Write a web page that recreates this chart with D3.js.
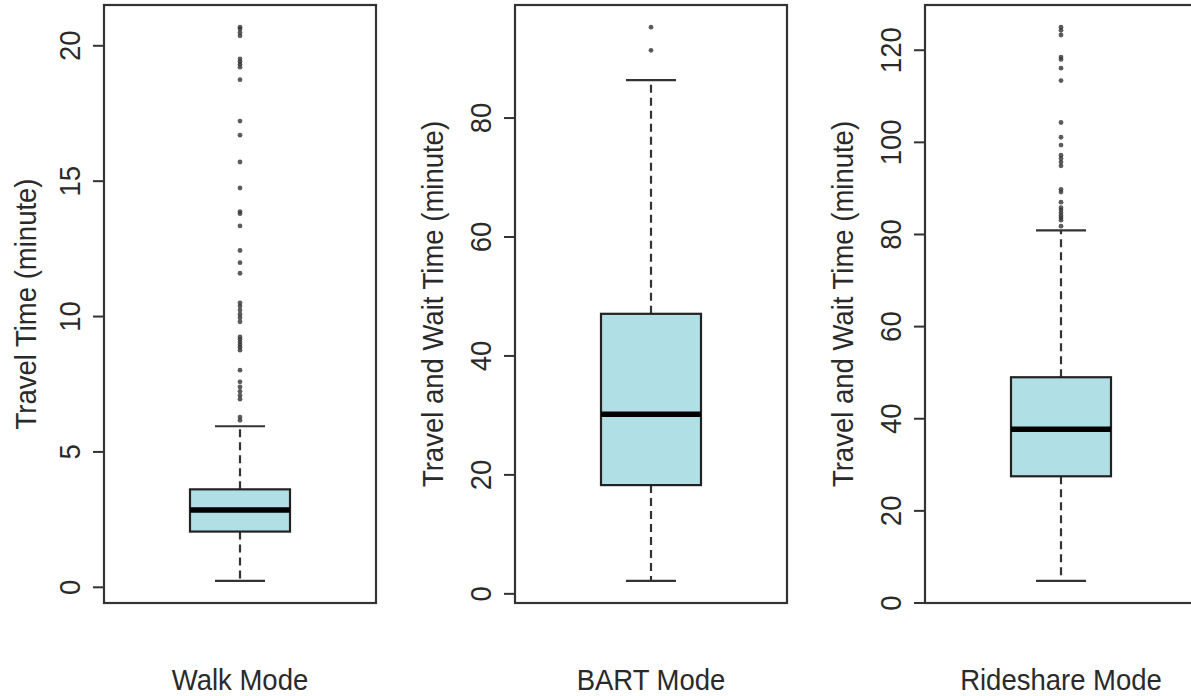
<!DOCTYPE html>
<html>
<head>
<meta charset="utf-8">
<script src="https://cdn.jsdelivr.net/npm/d3@7/dist/d3.min.js"></script>
<style>
  html, body { margin: 0; padding: 0; background: #fff; }
  svg { display: block; }
  text { font-family: "Liberation Sans", Arial, sans-serif; fill: #2a2a2a; }
</style>
</head>
<body>
<svg id="chart" width="1191" height="696"></svg>
<script>
// ---------------- data ----------------
const categories = ["Walk Mode", "BART Mode", "Rideshare Mode"];
const yTitles = ["Travel Time (minute)", "Travel and Wait Time (minute)", "Travel and Wait Time (minute)"];
const lowerWhisker = [0.22, 2.1, 4.7];
const q1Values = [2.04, 18.2, 27.4];
const medianValues = [2.84, 30.1, 37.6];
const q3Values = [3.6, 47.0, 48.9];
const upperWhisker = [5.93, 86.3, 80.8];
const walkOutliers = [20.67, 20.6, 20.47, 20.35, 19.5, 19.4, 19.3, 19.19, 18.73, 17.2, 16.68,
  15.69, 14.73, 13.86, 13.78, 13.33, 12.42, 11.97, 11.58, 10.49, 10.37, 10.22, 10.07, 9.94,
  9.79, 9.23, 9.14, 9.04, 8.94, 8.85, 8.74, 8.0, 7.57, 7.38, 7.22, 7.07, 6.93, 6.27, 6.15];
const bartOutliers = [95.2, 91.3];
const rideOutliers = [124.9, 124.2, 123.2, 118.4, 117.9, 116.0, 113.3, 104.2, 101.0, 99.3,
  97.1, 96.4, 95.6, 94.8, 89.7, 89.1, 86.9, 85.7, 85.2, 84.6, 84.0, 83.5, 83.0, 81.7];
const walkTicks = [0, 5, 10, 15, 20];
const bartTicks = [0, 20, 40, 60, 80];
const rideTicks = [0, 20, 40, 60, 80, 100, 120];

const outliers = [walkOutliers, bartOutliers, rideOutliers];
const tickSets = [walkTicks, bartTicks, rideTicks];

// ---------------- layout ----------------
const svg = d3.select("#chart");
const frameLeft = [104, 515, 925];
const frameW = 272;
const plotTop = 5, plotBottom = 603;
const boxW = 100, capW = 50;
const fontSize = 27.5;
const stretch = 1.08;

categories.forEach((cat, i) => {
  const g = svg.append("g");
  const all = [lowerWhisker[i], upperWhisker[i], ...outliers[i]];
  const lo = d3.min(all), hi = d3.max(all);
  const pad = (hi - lo) * 0.04;
  const y = d3.scaleLinear().domain([lo - pad, hi + pad]).range([plotBottom, plotTop]);
  const x = d3.scaleBand().domain([cat]).range([frameLeft[i], frameLeft[i] + frameW]);
  const cx = x(cat) + x.bandwidth() / 2;

  // y axis ticks
  const axis = d3.axisLeft(y).tickValues(tickSets[i]).tickSize(11).tickPadding(0).tickFormat(d3.format("d"));
  const ax = g.append("g").attr("transform", `translate(${frameLeft[i]},0)`).call(axis);
  ax.select(".domain").remove();
  ax.selectAll(".tick line").attr("stroke", "#333").attr("stroke-width", 2);
  ax.selectAll(".tick text").remove();
  ax.selectAll(".tick").append("text")
    .attr("transform", `translate(-24,0) rotate(-90) scale(1,${stretch})`)
    .attr("text-anchor", "middle")
    .attr("x", 0).attr("y", 0)
    .style("font-size", fontSize + "px")
    .style("fill", "#2a2a2a")
    .text(d => d);

  // whiskers (dashed)
  g.append("line").attr("x1", cx).attr("x2", cx)
    .attr("y1", y(q3Values[i])).attr("y2", y(upperWhisker[i]))
    .attr("stroke", "#333").attr("stroke-width", 2.2).attr("stroke-dasharray", "8,5");
  g.append("line").attr("x1", cx).attr("x2", cx)
    .attr("y1", y(q1Values[i])).attr("y2", y(lowerWhisker[i]))
    .attr("stroke", "#333").attr("stroke-width", 2.2).attr("stroke-dasharray", "8,5");
  // caps
  [upperWhisker[i], lowerWhisker[i]].forEach(v => {
    g.append("line").attr("x1", cx - capW / 2).attr("x2", cx + capW / 2)
      .attr("y1", y(v)).attr("y2", y(v)).attr("stroke", "#333").attr("stroke-width", 2.2);
  });
  // box
  g.append("rect").attr("x", cx - boxW / 2).attr("width", boxW)
    .attr("y", y(q3Values[i])).attr("height", y(q1Values[i]) - y(q3Values[i]))
    .attr("fill", "#b0e0e6").attr("stroke", "#222").attr("stroke-width", 2.2);
  // median
  g.append("line").attr("x1", cx - boxW / 2).attr("x2", cx + boxW / 2)
    .attr("y1", y(medianValues[i])).attr("y2", y(medianValues[i]))
    .attr("stroke", "#000").attr("stroke-width", 5.5);
  // outliers
  g.selectAll("circle.out").data(outliers[i]).enter().append("circle")
    .attr("class", "out").attr("cx", cx).attr("cy", d => y(d)).attr("r", 2.4)
    .attr("fill", "#333").attr("fill-opacity", 0.8);

  // frame
  g.append("rect").attr("x", frameLeft[i]).attr("y", plotTop).attr("width", frameW).attr("height", plotBottom - plotTop)
    .attr("fill", "none").attr("stroke", "#333").attr("stroke-width", 2.2);

  // y title
  const titleX = [36, 443, 853][i];
  g.append("text")
    .attr("transform", `translate(${titleX},${(plotTop + plotBottom) / 2}) rotate(-90) scale(1,${stretch})`)
    .attr("text-anchor", "middle")
    .style("font-size", fontSize + "px")
    .text(yTitles[i]);

  // x label
  g.append("text")
    .attr("transform", `translate(${cx},690) scale(1,${stretch})`)
    .attr("text-anchor", "middle")
    .style("font-size", fontSize + "px")
    .text(cat);
});
</script>
</body>
</html>
